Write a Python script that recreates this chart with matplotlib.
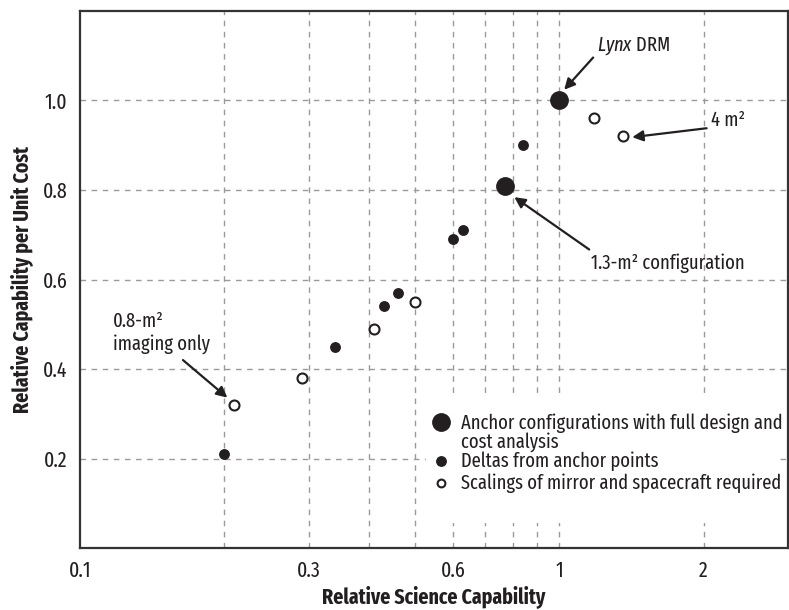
import matplotlib
matplotlib.use("Agg")
import matplotlib.pyplot as plt
import matplotlib.ticker as ticker
from matplotlib.patches import Rectangle

FONT = "Fira Sans Extra Condensed"
plt.rcParams["font.family"] = [FONT, "DejaVu Sans"]
plt.rcParams["mathtext.fontset"] = "custom"
plt.rcParams["mathtext.rm"] = FONT
plt.rcParams["mathtext.it"] = FONT + ":italic"

INK = "#231f20"
GRID = "#9a9a9a"

# anchor configurations (full design and cost analysis)
anchor_x = [1.0, 0.77]
anchor_y = [1.0, 0.81]

# deltas from anchor points
delta_x = [0.20, 0.34, 0.43, 0.46, 0.60, 0.63, 0.84]
delta_y = [0.21, 0.45, 0.54, 0.57, 0.69, 0.71, 0.90]

# scalings of mirror and spacecraft required
scale_x = [0.21, 0.29, 0.41, 0.50, 1.18, 1.36]
scale_y = [0.32, 0.38, 0.49, 0.55, 0.96, 0.92]

x_grid = [0.2, 0.3, 0.4, 0.5, 0.6, 0.7, 0.8, 0.9, 1.0, 2.0]
x_ticks = [0.1, 0.3, 0.6, 1, 2]
x_ticklabels = ["0.1", "0.3", "0.6", "1", "2"]
y_ticks = [0.2, 0.4, 0.6, 0.8, 1.0]

legend_labels = [
    "Anchor configurations with full design and\ncost analysis",
    "Deltas from anchor points",
    "Scalings of mirror and spacecraft required",
]

fig = plt.figure(figsize=(7.89, 6.10), dpi=100)
ax = fig.add_axes([0.1014, 0.1016, 0.8972, 0.8804])

ax.set_xscale("log")
ax.set_xlim(0.1, 3.0)
ax.set_ylim(0, 1.2)

for gx in x_grid:
    ax.axvline(gx, color=GRID, lw=1.0, ls=(0, (4, 4)), zorder=1)
for gy in y_ticks:
    ax.axhline(gy, color=GRID, lw=1.0, ls=(0, (4, 4)), zorder=1)

ax.plot(anchor_x, anchor_y, "o", ms=12.5, color=INK, ls="none", zorder=5)
ax.plot(delta_x, delta_y, "o", ms=6.8, color=INK, ls="none", zorder=5)
ax.plot(scale_x, scale_y, "o", ms=7.2, mfc="white", mec=INK, mew=1.5,
        ls="none", zorder=5)

ax.xaxis.set_major_locator(ticker.FixedLocator(x_ticks))
ax.xaxis.set_major_formatter(ticker.FixedFormatter(x_ticklabels))
ax.xaxis.set_minor_locator(ticker.NullLocator())
ax.set_yticks(y_ticks)
ax.set_yticklabels([f"{v:.1f}" for v in y_ticks])
ax.tick_params(length=0, labelsize=15.5, colors=INK)
ax.tick_params(axis="x", pad=9)
ax.tick_params(axis="y", pad=9)

for s in ax.spines.values():
    s.set_color("#333333")
    s.set_linewidth(1.6)
    s.set_zorder(6)

ax.set_xlabel("Relative Science Capability", fontsize=15.5, fontweight="bold",
              color=INK, va="center")
ax.xaxis.set_label_coords(0.5, -0.090)
ax.set_ylabel("Relative Capability per Unit Cost", fontsize=15.5,
              fontweight="bold", color=INK, va="center")
ax.yaxis.set_label_coords(-0.082, 0.5)

arrow = dict(arrowstyle="-|>", color=INK, lw=1.6, mutation_scale=16,
             shrinkA=0, shrinkB=0)
txt = dict(fontsize=14.5, color=INK)

# annotations: arrows and their labels
ax.annotate("", xy=(1.024, 1.024), xytext=(1.177, 1.096), arrowprops=arrow)
ax.text(1.20, 1.122, r"$\mathit{Lynx}$ DRM", ha="left", va="center", **txt)

ax.annotate("", xy=(1.42, 0.918), xytext=(2.03, 0.938), arrowprops=arrow)
ax.text(2.07, 0.955, "4 m²", ha="left", va="center", **txt)

ax.annotate("", xy=(0.806, 0.784), xytext=(1.155, 0.667), arrowprops=arrow)
ax.text(1.166, 0.636, "1.3-m² configuration", ha="left", va="center", **txt)

ax.annotate("", xy=(0.203, 0.336), xytext=(0.164, 0.420), arrowprops=arrow)
ax.text(0.117, 0.507, "0.8-m²", ha="left", va="center", **txt)
ax.text(0.117, 0.456, "imaging only", ha="left", va="center", **txt)

# legend drawn by hand on a white patch
ax.add_patch(Rectangle((0.489, 0.0466), 0.498, 0.234, transform=ax.transAxes,
                       facecolor="white", edgecolor="none", zorder=3))
mark_x = 0.5106
text_x = 0.5388
ax.plot([mark_x], [0.2346], "o", ms=12.5, color=INK, transform=ax.transAxes, zorder=5)
ax.plot([mark_x], [0.162], "o", ms=6.8, color=INK, transform=ax.transAxes, zorder=5)
ax.plot([mark_x], [0.121], "o", ms=5.6, mfc="white", mec=INK, mew=1.5,
        transform=ax.transAxes, zorder=5)
row_y = [0.2328, 0.162, 0.121]
for lab, y in zip(legend_labels, row_y):
    for k, line in enumerate(lab.split("\n")):
        ax.text(text_x, y - k * 0.0355, line, transform=ax.transAxes,
                ha="left", va="center", zorder=5, **txt)

fig.savefig("out.png", dpi=100)
